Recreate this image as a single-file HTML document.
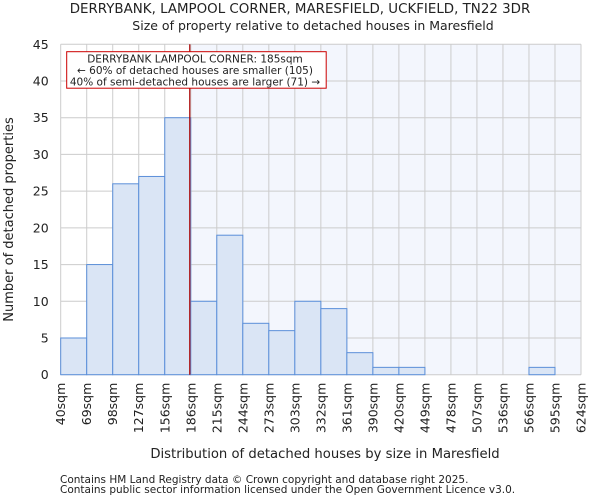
<!DOCTYPE html>
<html><head><meta charset="utf-8"><style>
body{margin:0;background:#fff;font-family:"DejaVu Sans","Liberation Sans",sans-serif}
svg text{font-family:"DejaVu Sans","Liberation Sans",sans-serif;fill:#222}
</style></head><body>
<svg id="c" width="600" height="500"></svg>
<script>
const categories=["40sqm","69sqm","98sqm","127sqm","156sqm","186sqm","215sqm","244sqm","273sqm","303sqm","332sqm","361sqm","390sqm","420sqm","449sqm","478sqm","507sqm","536sqm","566sqm","595sqm","624sqm"];
const counts=[5,15,26,27,35,10,19,7,6,10,9,3,1,1,0,0,0,0,1,0];
const yTicks=[0,5,10,15,20,25,30,35,40,45];
const markerBin=5;
const L=60.7,R=581,T=44.3,B=374.7,yMax=45;
const bw=(R-L)/counts.length;
const xs=i=>L+i*bw, ys=v=>B-(v/yMax)*(B-T);
const s=document.getElementById('c');const NS="http://www.w3.org/2000/svg";
function mk(t,a,p){const e=document.createElementNS(NS,t);for(const k in a)e.setAttribute(k,a[k]);(p||s).appendChild(e);return e;}
let e;
e=mk('text',{x:300,y:13,'text-anchor':'middle','font-size':13.4});e.textContent="DERRYBANK, LAMPOOL CORNER, MARESFIELD, UCKFIELD, TN22 3DR";


e=mk('text',{x:313,y:30,'text-anchor':'middle','font-size':12.5});e.textContent="Size of property relative to detached houses in Maresfield";


e=mk('rect',{x:xs(markerBin)-1,y:T,width:R-xs(markerBin)+1,height:B-T,fill:'#f3f6fd'});


yTicks.forEach(v=>{mk('line',{x1:L,x2:R,y1:ys(v),y2:ys(v),stroke:'#cccccc','stroke-width':1});
 e=mk('text',{x:L-12,y:ys(v)+4.5,'text-anchor':'end','font-size':12.5});e.textContent=v;
 
 });
categories.forEach((c,i)=>{mk('line',{x1:xs(i),x2:xs(i),y1:T,y2:B,stroke:'#cccccc','stroke-width':1});
 const x=xs(i);e=mk('text',{x:0,y:0,'text-anchor':'end','font-size':12.5,transform:`translate(${x+4.5},${B+8}) rotate(-90)`});e.textContent=c;
 
 });
counts.forEach((v,i)=>{if(v<=0)return;e=mk('rect',{x:xs(i),y:ys(v),width:bw,height:B-ys(v),fill:'#dae5f5',stroke:'#5b8fd9','stroke-width':1});
 
 });
e=mk('line',{x1:xs(markerBin)-1,x2:xs(markerBin)-1,y1:T,y2:B,stroke:'#aa0000','stroke-width':1.2});


e=mk('rect',{x:66.7,y:51.7,width:259.5,height:36.5,fill:'#fff',stroke:'#cc0000','stroke-width':1});


["DERRYBANK LAMPOOL CORNER: 185sqm","← 60% of detached houses are smaller (105)","40% of semi-detached houses are larger (71) →"].forEach((t,k)=>{
 e=mk('text',{x:195,y:62.5+k*11.5,'text-anchor':'middle','font-size':10.5});e.textContent=t;
 
 });
e=mk('text',{x:0,y:0,'text-anchor':'middle','font-size':13,transform:`translate(13,${(T+B)/2+10}) rotate(-90)`});e.textContent="Number of detached properties";


e=mk('text',{x:325,y:458,'text-anchor':'middle','font-size':13.2});e.textContent="Distribution of detached houses by size in Maresfield";


["Contains HM Land Registry data © Crown copyright and database right 2025.","Contains public sector information licensed under the Open Government Licence v3.0."].forEach((t,k)=>{
 e=mk('text',{x:60,y:483+k*10,'font-size':10.5,fill:'#444'});e.textContent=t;
 
 });
</script></body></html>
